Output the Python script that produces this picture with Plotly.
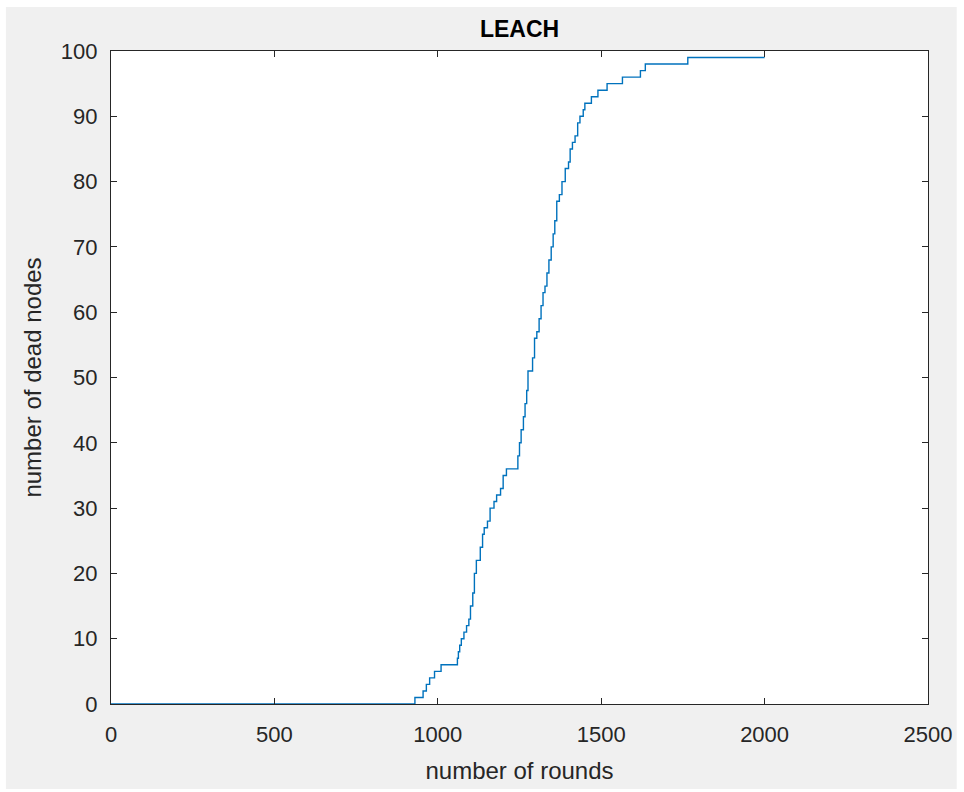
import plotly.graph_objects as go

# Step events: round at which the count of dead nodes changes, and the new count
event_rounds = [0, 930, 955, 965, 975, 990, 1010, 1060, 1063, 1067, 1072, 1080, 1088,
                1095, 1100, 1107, 1112, 1118, 1130, 1137, 1142, 1152, 1160, 1172, 1180,
                1192, 1200, 1210, 1245, 1250, 1255, 1262, 1267, 1272, 1276, 1290, 1296,
                1303, 1310, 1316, 1322, 1328, 1334, 1340, 1347, 1353, 1358, 1364, 1372,
                1380, 1390, 1400, 1405, 1412, 1420, 1428, 1435, 1445, 1450, 1470, 1490,
                1518, 1565, 1620, 1635, 1765, 2000]
dead_nodes = [0, 1, 2, 3, 4, 5, 6, 7, 8, 9, 10, 11, 12,
              13, 15, 17, 20, 22, 24, 26, 27, 28, 30, 31, 32,
              33, 35, 36, 38, 40, 42, 44, 46, 48, 51, 53, 56,
              57, 59, 61, 63, 64, 66, 68, 70, 72, 74, 77, 78,
              80, 82, 83, 85, 86, 87, 89, 90, 91, 92, 93, 94,
              95, 96, 97, 98, 99, 99]

x_ticks = [0, 500, 1000, 1500, 2000, 2500]
y_ticks = [0, 10, 20, 30, 40, 50, 60, 70, 80, 90, 100]

W, H = 964, 792
L, R, T, B = 111, 29, 51, 88
pw, ph = W - L - R, H - T - B
FONT = "Liberation Sans, Arial"

fig = go.Figure()
fig.add_trace(go.Scatter(x=event_rounds, y=dead_nodes, mode="lines",
                         line=dict(color="#0072bd", width=1.4, shape="hv"),
                         showlegend=False, hoverinfo="x+y"))

# grey figure background (MATLAB style) with thin white strips, then white axes area
fig.add_shape(type="rect", xref="paper", yref="paper", layer="below",
              x0=(5 - L) / pw, x1=(W - L) / pw,
              y0=-(789 - T - ph) / ph, y1=1 + (T - 7) / ph,
              fillcolor="#f0f0f0", line=dict(width=0))
fig.add_shape(type="rect", xref="paper", yref="paper", layer="below",
              x0=0, x1=1, y0=0, y1=1, fillcolor="white", line=dict(width=0))

axis_common = dict(showgrid=False, zeroline=False, showline=True, linecolor="#262626",
                   linewidth=1.3, mirror="ticks", ticks="inside", ticklen=6,
                   tickcolor="#262626", tickwidth=1.3,
                   tickfont=dict(family=FONT, size=22, color="#262626"))

fig.update_xaxes(range=[0, 2500], tickvals=x_ticks, ticktext=[str(v) for v in x_ticks],
                 title=dict(text="number of rounds", standoff=16,
                            font=dict(family=FONT, size=24, color="#262626")),
                 ticklabelstandoff=10, **axis_common)
fig.update_yaxes(range=[0, 100], tickvals=y_ticks, ticktext=[str(v) for v in y_ticks],
                 title=dict(text="number of dead nodes", standoff=12,
                            font=dict(family=FONT, size=24, color="#262626")),
                 ticklabelstandoff=8, **axis_common)

fig.update_layout(
    width=W, height=H,
    margin=dict(l=L, r=R, t=T, b=B),
    paper_bgcolor="white", plot_bgcolor="white",
    title=dict(text="<b>LEACH</b>", x=0.5, xref="paper", y=1 - 29 / H, yanchor="middle",
               font=dict(family=FONT, size=23, color="#000000")),
)

fig.write_html("out.html")
